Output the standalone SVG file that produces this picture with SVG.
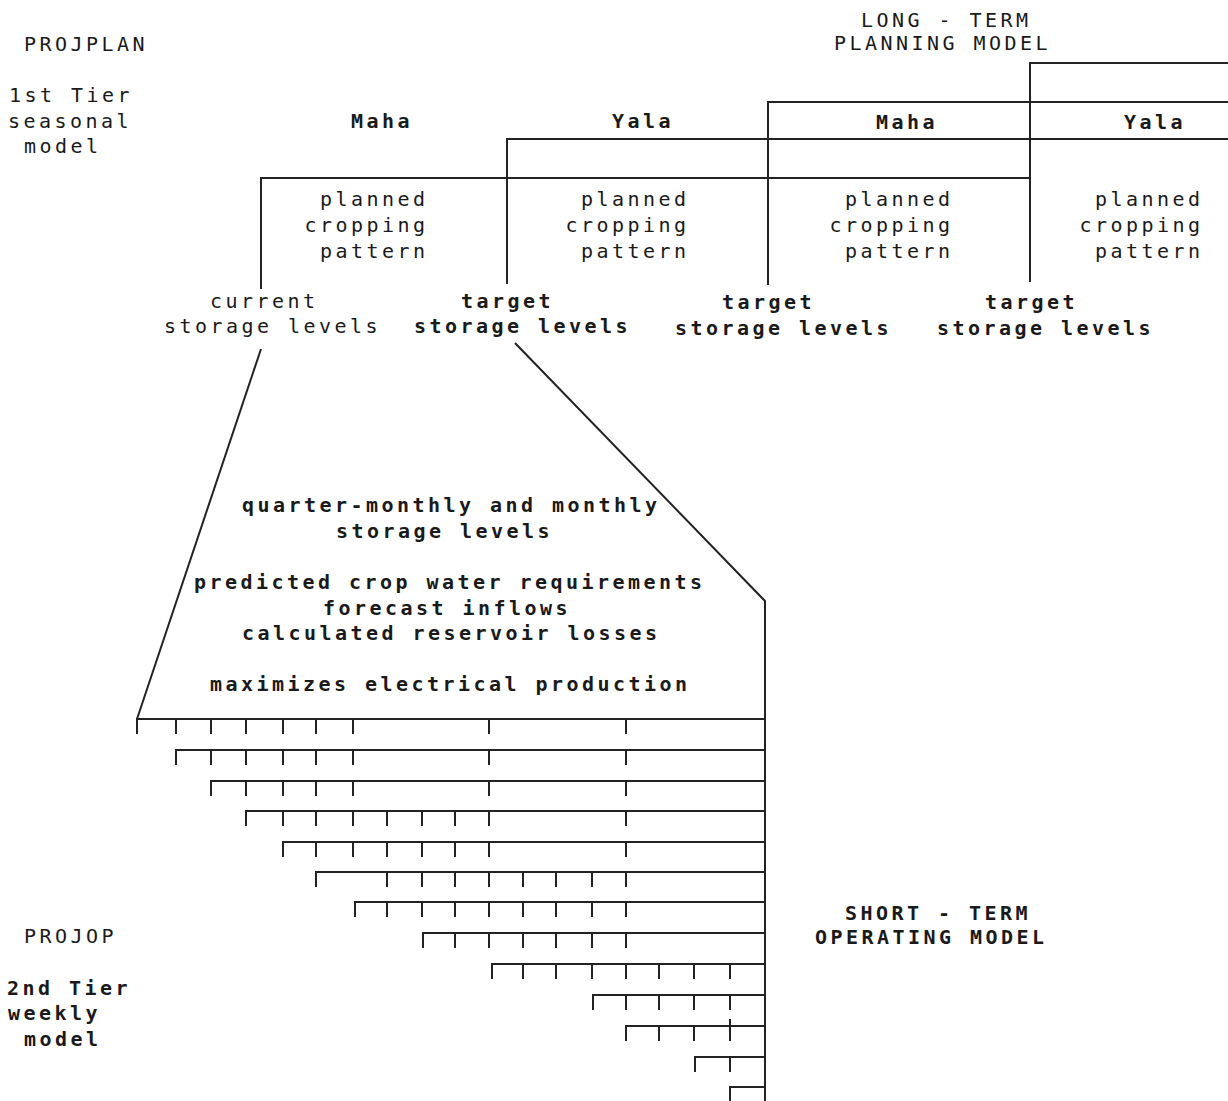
<svg xmlns="http://www.w3.org/2000/svg" width="1228" height="1101" viewBox="0 0 1228 1101">
<style>
.t{font-family:"DejaVu Sans Mono","Liberation Mono",monospace;font-size:20px;letter-spacing:3.46px;fill:#1a1a1a}
.b{font-weight:bold}
.ln{stroke:#222;stroke-width:2;fill:none}
</style>
<rect width="1228" height="1101" fill="#fff"/>
<g id="connectors" class="ln">
<path d="M1030,282 V63 H1228"/>
<path d="M768,285 V102 H1228"/>
<path d="M507,284 V139 H1228"/>
<path d="M261,289 V178 H1030"/>
<path d="M261,349 L137,719"/>
<path d="M515,343 L765,601 V1101"/>
</g>
<g id="weekly-grid" class="ln">
<path d="M137,734 V719 H765 M176,719 v15 M211,719 v15 M246,719 v15 M283,719 v15 M316,719 v15 M353,719 v15 M489,719 v15 M626,719 v15"/>
<path d="M176,765 V750 H765 M211,750 v15 M246,750 v15 M283,750 v15 M316,750 v15 M353,750 v15 M489,750 v15 M626,750 v15"/>
<path d="M211,796 V781 H765 M246,781 v15 M283,781 v15 M316,781 v15 M353,781 v15 M489,781 v15 M626,781 v15"/>
<path d="M246,826 V811 H765 M283,811 v15 M316,811 v15 M353,811 v15 M387,811 v15 M422,811 v15 M455,811 v15 M489,811 v15 M626,811 v15"/>
<path d="M283,857 V842 H765 M316,842 v15 M353,842 v15 M387,842 v15 M422,842 v15 M455,842 v15 M489,842 v15 M626,842 v15"/>
<path d="M316,887 V872 H765 M387,872 v15 M422,872 v15 M455,872 v15 M489,872 v15 M523,872 v15 M556,872 v15 M592,872 v15 M626,872 v15"/>
<path d="M355,917 V902 H765 M387,902 v15 M422,902 v15 M455,902 v15 M489,902 v15 M523,902 v15 M556,902 v15 M592,902 v15 M626,902 v15"/>
<path d="M423,948 V933 H765 M455,933 v15 M489,933 v15 M523,933 v15 M556,933 v15 M592,933 v15 M626,933 v15"/>
<path d="M492,979 V964 H765 M523,964 v15 M556,964 v15 M592,964 v15 M626,964 v15 M659,964 v15 M694,964 v15 M730,964 v15"/>
<path d="M593,1010 V995 H765 M626,995 v15 M659,995 v15 M694,995 v15 M730,995 v15"/>
<path d="M626,1041 V1026 H765 M659,1026 v15 M694,1026 v15 M730,1019 v22"/>
<path d="M695,1072 V1057 H765 M730,1057 v15"/>
<path d="M730,1101 V1087 H765"/>
</g>
<g id="projplan-label" class="t">
<text x="24" y="51">PROJPLAN</text>
<text x="9" y="102">1st Tier</text>
<text x="8" y="128">seasonal</text>
<text x="24" y="153">model</text>
</g>
<g id="long-term-label" class="t">
<text x="861" y="27">LONG - TERM</text>
<text x="834" y="50">PLANNING MODEL</text>
</g>
<g id="season-maha-1" class="t b"><text x="351" y="128">Maha</text></g>
<g id="season-yala-1" class="t b"><text x="612" y="128">Yala</text></g>
<g id="season-maha-2" class="t b"><text x="876" y="129">Maha</text></g>
<g id="season-yala-2" class="t b"><text x="1124" y="129">Yala</text></g>
<g id="crop-1" class="t">
<text x="320" y="206">planned</text>
<text x="304.5" y="232">cropping</text>
<text x="320" y="258">pattern</text>
</g>
<g id="crop-2" class="t">
<text x="581" y="206">planned</text>
<text x="565.5" y="232">cropping</text>
<text x="581" y="258">pattern</text>
</g>
<g id="crop-3" class="t">
<text x="845" y="206">planned</text>
<text x="829.5" y="232">cropping</text>
<text x="845" y="258">pattern</text>
</g>
<g id="crop-4" class="t">
<text x="1095" y="206">planned</text>
<text x="1079.5" y="232">cropping</text>
<text x="1095" y="258">pattern</text>
</g>
<g id="storage-current" class="t">
<text x="210" y="308">current</text>
<text x="164" y="333">storage levels</text>
</g>
<g id="storage-target-1" class="t b">
<text x="461" y="308">target</text>
<text x="414" y="333">storage levels</text>
</g>
<g id="storage-target-2" class="t b">
<text x="722" y="309">target</text>
<text x="675" y="335">storage levels</text>
</g>
<g id="storage-target-3" class="t b">
<text x="985" y="309">target</text>
<text x="937" y="335">storage levels</text>
</g>
<g id="weekly-model-info" class="t b">
<text x="242" y="512">quarter-monthly and monthly</text>
<text x="336" y="538">storage levels</text>
<text x="194" y="589">predicted crop water requirements</text>
<text x="323" y="615">forecast inflows</text>
<text x="242" y="640">calculated reservoir losses</text>
<text x="210" y="691">maximizes electrical production</text>
</g>
<g id="short-term-label" class="t b">
<text x="845" y="920">SHORT - TERM</text>
<text x="815" y="944">OPERATING MODEL</text>
</g>
<g id="projop-label" class="t">
<text x="24" y="943">PROJOP</text>
</g>
<g id="tier2-label" class="t b">
<text x="7" y="995">2nd Tier</text>
<text x="8" y="1020">weekly</text>
<text x="24" y="1046">model</text>
</g>
</svg>
